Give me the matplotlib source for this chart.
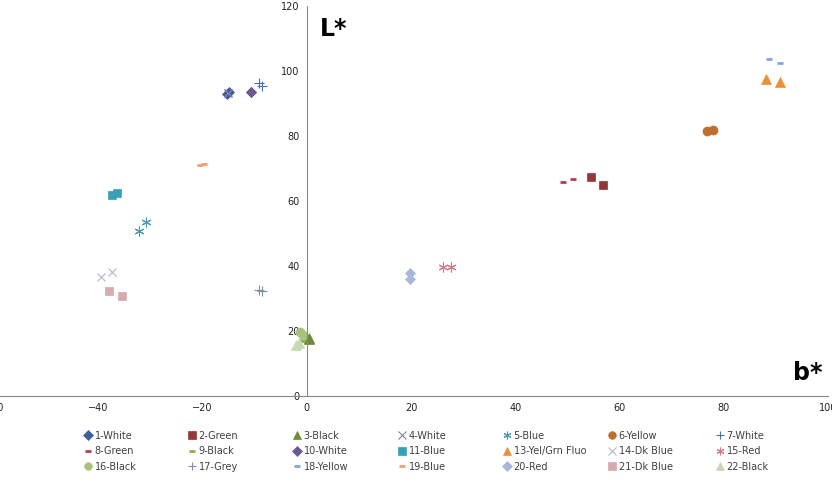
import matplotlib.pyplot as plt
from matplotlib.lines import Line2D

# series: name -> (b* values, L* values)
names = ['1-White', '2-Green', '3-Black', '4-White', '5-Blue', '6-Yellow', '7-White',
         '8-Green', '9-Black', '10-White', '11-Blue', '13-Yel/Grn Fluo', '14-Dk Blue', '15-Red',
         '16-Black', '17-Grey', '18-Yellow', '19-Blue', '20-Red', '21-Dk Blue', '22-Black']

b_vals = [[-15.3, -15.0], [54.6, 56.8], [0.4, 0.5], [-15.2, -15.1], [-32.2, -30.9],
          [76.7, 77.9], [-9.2, -8.6], [49.1, 51.0], [-1.0, -0.9], [-10.7, -10.7],
          [-37.4, -36.4], [88.2, 90.7], [-39.5, -37.4], [26.1, 27.6], [-1.3, -0.8],
          [-9.2, -8.6], [88.6, 90.7], [-20.5, -19.8], [19.9, 19.8], [-38.0, -35.5],
          [-2.1, -1.5]]
L_vals = [[93.0, 93.4], [67.4, 64.9], [17.5, 17.8], [93.2, 93.3], [50.8, 53.5],
          [81.5, 81.8], [96.3, 95.4], [65.8, 66.8], [17.0, 17.2], [93.5, 93.5],
          [61.8, 62.5], [97.5, 96.7], [36.6, 38.2], [39.7, 39.7], [19.7, 18.8],
          [32.6, 32.2], [103.7, 102.4], [71.2, 71.5], [37.8, 36.0], [32.3, 30.8],
          [15.7, 16.3]]

star = (6, 2, 0)
markers = ['D', 's', '^', 'x', star, 'o', '+', '_', '_', 'D', 's', '^', 'x', star,
           'o', '+', '_', '_', 'D', 's', '^']
colors = ['#3F5F9A', '#953735', '#6F8A3A', '#8A7BA8', '#4A9BB0', '#C0702C', '#4A6FB0',
          '#B0404A', '#8DB050', '#6A5A92', '#3AA0B8', '#E8913C', '#B8B4CC', '#D97A86',
          '#A8C47C', '#8090A8', '#7FA8D8', '#F0A070', '#A8B8D8', '#D8AAB0', '#C8D8B0']
sizes = [5, 6, 7, 6, 7, 6.5, 7, 4, 4, 5, 6, 7, 6, 7, 6.5, 7, 4, 5, 5, 6, 7]


def edge_w(m):
    if m in ('x', '+') or m == star:
        return 0.8
    if m == '_':
        return 2.0
    return 0.5


fig = plt.figure(figsize=(8.32, 4.88), dpi=100)
ax = fig.add_axes([-6 / 832, 92 / 488, 834 / 832, 390 / 488])

handles = []
for i, name in enumerate(names):
    ax.plot(b_vals[i], L_vals[i], linestyle='none', marker=markers[i], color=colors[i],
            markersize=sizes[i], markeredgewidth=edge_w(markers[i]))
    handles.append(Line2D([], [], linestyle='none', marker=markers[i], color=colors[i],
                          markersize=min(sizes[i], 5.5), markeredgewidth=edge_w(markers[i])))

ax.set_xlim(-60, 100)
ax.set_ylim(0, 120)
ax.set_xticks(range(-60, 101, 20))
ax.set_yticks(range(0, 121, 20))
ax.spines['left'].set_position(('data', 0))
ax.spines['right'].set_visible(False)
ax.spines['top'].set_visible(False)
for s in ['left', 'bottom']:
    ax.spines[s].set_color('#888888')
ax.tick_params(length=0, labelsize=7, colors='#222222', pad=5)

ax.text(2.5, 113, 'L*', fontsize=17, fontweight='bold', va='center', ha='left')
ax.text(99, 7, 'b*', fontsize=17, fontweight='bold', va='center', ha='right')

# legend: 7 columns placed at fixed spacing, rows read 1..7, 8..14, 15..21
col_x = [80, 184, 289, 394, 499, 604, 712]
for c in range(7):
    idx = [7 * r + c for r in range(3)]
    leg = fig.legend([handles[k] for k in idx], [names[k] for k in idx],
                     loc='upper left', bbox_to_anchor=(col_x[c] / 832, 0.125),
                     frameon=False, fontsize=7, handlelength=0.8, handletextpad=0.3,
                     labelspacing=0.55, labelcolor='#404040', borderaxespad=0)

fig.savefig('out.png', dpi=100)
